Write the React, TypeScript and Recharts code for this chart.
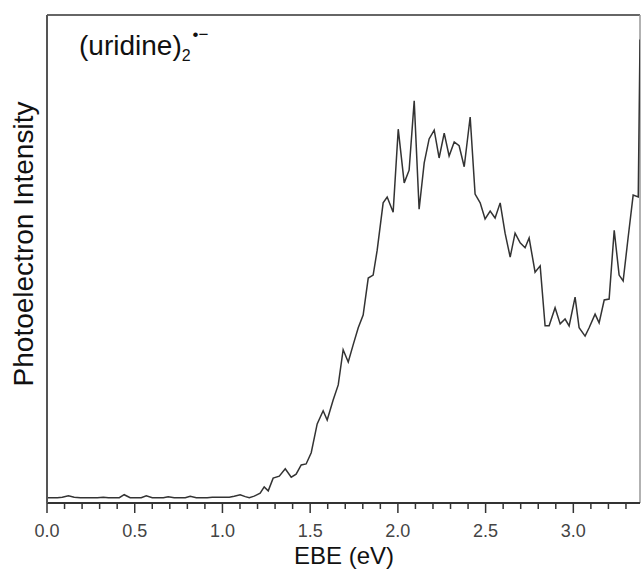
import React from 'react';
import { LineChart, Line, XAxis, YAxis, ReferenceLine, Customized } from 'recharts';

// photoelectron spectrum (EBE in eV, intensity in arb. units)
const ebe = [
  0.0, 0.059, 0.087, 0.122, 0.155, 0.19, 0.224, 0.258, 0.287, 0.321, 0.35, 0.383, 0.412, 0.44,
  0.474, 0.503, 0.537, 0.566, 0.6, 0.628, 0.663, 0.691, 0.725, 0.754, 0.788, 0.816, 0.851, 0.879,
  0.913, 0.942, 0.976, 1.004, 1.039, 1.067, 1.101, 1.13, 1.153, 1.181, 1.215, 1.238, 1.261, 1.289,
  1.324, 1.358, 1.392, 1.42, 1.449, 1.477, 1.506, 1.54, 1.574, 1.597, 1.631, 1.66, 1.688, 1.717,
  1.745, 1.774, 1.802, 1.831, 1.859, 1.882, 1.916, 1.939, 1.973, 2.002, 2.036, 2.064, 2.093, 2.121,
  2.15, 2.178, 2.207, 2.235, 2.264, 2.292, 2.321, 2.349, 2.378, 2.412, 2.44, 2.469, 2.497, 2.526,
  2.554, 2.583, 2.611, 2.64, 2.668, 2.697, 2.725, 2.748, 2.782, 2.811, 2.839, 2.862, 2.896, 2.925,
  2.953, 2.976, 3.01, 3.033, 3.067, 3.09, 3.124, 3.147, 3.176, 3.204, 3.233, 3.261, 3.284, 3.312,
  3.341, 3.37, 3.38,
];

const intensity = [
  1.1, 1.1, 1.2, 1.5, 1.2, 1.1, 1.1, 1.1, 1.1, 1.2, 1.1, 1.1, 1.1, 1.7,
  1.1, 1.1, 1.1, 1.5, 1.1, 1.1, 1.1, 1.3, 1.1, 1.1, 1.1, 1.4, 1.1, 1.1,
  1.1, 1.2, 1.2, 1.2, 1.2, 1.4, 1.7, 1.3, 1.1, 1.4, 2.0, 3.3, 2.5, 5.1,
  5.5, 7.0, 5.3, 5.9, 7.8, 8.0, 10.3, 16.2, 18.9, 17.0, 21.1, 24.2, 31.4, 28.9,
  32.4, 35.9, 38.5, 46.1, 46.7, 51.8, 61.5, 62.7, 59.6, 76.6, 65.6, 68.2, 82.4, 60.2,
  69.7, 74.6, 76.4, 70.7, 75.8, 71.1, 74.0, 73.2, 68.9, 79.1, 63.3, 61.5, 58.2, 59.8,
  58.4, 61.5, 55.3, 50.4, 55.3, 53.3, 52.3, 54.3, 47.3, 48.6, 36.3, 36.3, 40.0, 36.7,
  37.7, 36.3, 42.2, 35.9, 34.2, 35.9, 38.7, 36.9, 41.6, 41.8, 55.9, 46.7, 45.5, 54.3,
  63.1, 62.7, 95.0,
];

const xTicks = [
  0, 0.1, 0.2, 0.3, 0.4, 0.5, 0.6, 0.7, 0.8, 0.9, 1.0, 1.1, 1.2, 1.3, 1.4, 1.5, 1.6,
  1.7, 1.8, 1.9, 2.0, 2.1, 2.2, 2.3, 2.4, 2.5, 2.6, 2.7, 2.8, 2.9, 3.0, 3.1, 3.2, 3.3,
];
const majorLabels = ['0.0', '0.5', '1.0', '1.5', '2.0', '2.5', '3.0'];

const data = ebe.map((x, i) => ({ ebe: x, intensity: intensity[i] }));

const FONT = '"Liberation Sans", Arial, sans-serif';
const INK = '#333';

const EbeTick = (props: any) => {
  const { x, y, payload } = props;
  const label = Number(payload.value).toFixed(1);
  const major = majorLabels.includes(label);
  return (
    <g>
      <line x1={x} x2={x} y1={y} y2={y + (major ? 10 : 6)} stroke={INK} strokeWidth={1.5} />
      {major && (
        <text x={x} y={y + 34} textAnchor="middle" fontSize={18} fontFamily={FONT} fill="#444">
          {label}
        </text>
      )}
    </g>
  );
};

const Texts = () => (
  <g fontFamily={FONT} fill="#111">
    <text x={344} y={564} textAnchor="middle" fontSize={24}>
      EBE (eV)
    </text>
    <text x={0} y={0} textAnchor="middle" fontSize={28} transform="translate(33 244) rotate(-90)">
      Photoelectron Intensity
    </text>
    <text x={79} y={55} fontSize={28}>
      (uridine)
      <tspan fontSize={16} dy={6}>2</tspan>
      <tspan fontSize={17} dy={-21} dx={2}>•−</tspan>
    </text>
  </g>
);

export default function App() {
  return (
    <div style={{ position: 'absolute', left: 0, top: 0, background: '#fff' }}>
      <LineChart width={641} height={569} data={data} margin={{ top: 15, right: 1, bottom: 0, left: 0 }}>
        <XAxis
          dataKey="ebe"
          type="number"
          domain={[0, 3.38]}
          ticks={xTicks}
          interval={0}
          height={66}
          tickSize={0}
          tickMargin={0}
          tickLine={false}
          tick={<EbeTick />}
          axisLine={{ stroke: INK, strokeWidth: 2 }}
          allowDataOverflow
        />
        <YAxis
          type="number"
          domain={[0, 100]}
          width={47}
          tick={false}
          tickLine={false}
          axisLine={{ stroke: '#555', strokeWidth: 2 }}
          allowDataOverflow
        />
        <ReferenceLine y={100} stroke="#666" strokeWidth={2} ifOverflow="visible" />
        <ReferenceLine x={3.38} stroke="#999" strokeWidth={1.5} ifOverflow="visible" />
        <Line
          type="linear"
          dataKey="intensity"
          stroke={INK}
          strokeWidth={1.5}
          dot={false}
          isAnimationActive={false}
        />
        <Customized component={Texts} />
      </LineChart>
    </div>
  );
}
